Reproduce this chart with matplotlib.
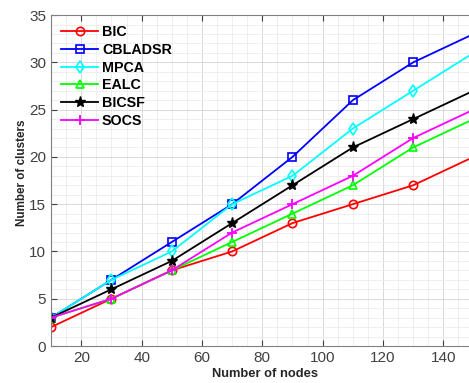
import numpy as np
import matplotlib
matplotlib.use('Agg')
import matplotlib.pyplot as plt
from matplotlib.ticker import MultipleLocator

# Dati
nodes = [10, 30, 50, 70, 90, 110, 130, 150]
bic = [2, 5, 8, 10, 13, 15, 17, 20]
cbladsr = [3, 7, 11, 15, 20, 26, 30, 33]
mpca = [3, 7, 10, 15, 18, 23, 27, 31]
ealc = [3, 5, 8, 11, 14, 17, 21, 24]
bicsf = [3, 6, 9, 13, 17, 21, 24, 27]
socs = [3, 5, 8, 12, 15, 18, 22, 25]

plt.rcParams['font.family'] = ['Liberation Sans', 'DejaVu Sans']

fig = plt.figure(figsize=(4.69, 3.83), dpi=100)
# l'asse continua oltre il bordo destro (figura tagliata)
ax = fig.add_axes([0.109, 0.0966, 0.9135, 0.864])

ax.plot(nodes, bic, '-o', color='#ff0000', lw=1.3, ms=6, mfc='none', mew=1.2, label='BIC')
ax.plot(nodes, cbladsr, '-s', color='#0000ff', lw=1.3, ms=5.5, mfc='none', mew=1.2, label='CBLADSR')
ax.plot(nodes, mpca, '-d', color='#00ffff', lw=1.3, ms=6, mfc='none', mew=1.2, label='MPCA')
ax.plot(nodes, ealc, '-^', color='#00ff00', lw=1.3, ms=6, mfc='none', mew=1.2, label='EALC')
ax.plot(nodes, bicsf, '-*', color='#000000', lw=1.3, ms=8, label='BICSF')
ax.plot(nodes, socs, '-+', color='#ff00ff', lw=1.3, ms=7, mew=1.3, label='SOCS')

ax.set_xlim(10, 152)
ax.set_ylim(0, 35)
ax.xaxis.set_major_locator(MultipleLocator(20))
ax.xaxis.set_minor_locator(MultipleLocator(5))
ax.yaxis.set_major_locator(MultipleLocator(5))
ax.yaxis.set_minor_locator(MultipleLocator(1))

ax.grid(which='major', color='#d9d9d9', lw=0.7)
ax.grid(which='minor', color='#ececec', lw=0.6)
ax.set_axisbelow(True)

for s in ax.spines.values():
    s.set_color('#808080')
ax.tick_params(which='both', direction='in', top=True, right=True,
               colors='#404040', labelsize=11)
ax.tick_params(which='minor', length=0)
ax.tick_params(which='major', length=4)

ax.set_xlabel('Number of nodes', fontsize=9.3, fontweight='bold', color='#262626', labelpad=2)
ax.set_ylabel('Number of clusters', fontsize=8.4, fontweight='bold', color='#262626')
ax.yaxis.set_label_coords(-0.054, 0.525)

leg = ax.legend(loc='upper left', frameon=False, prop={'weight': 'bold', 'size': 10.3},
                handlelength=2.6, labelspacing=0.26, borderaxespad=0.3, handletextpad=0.25)

plt.savefig('out.png', dpi=100)
